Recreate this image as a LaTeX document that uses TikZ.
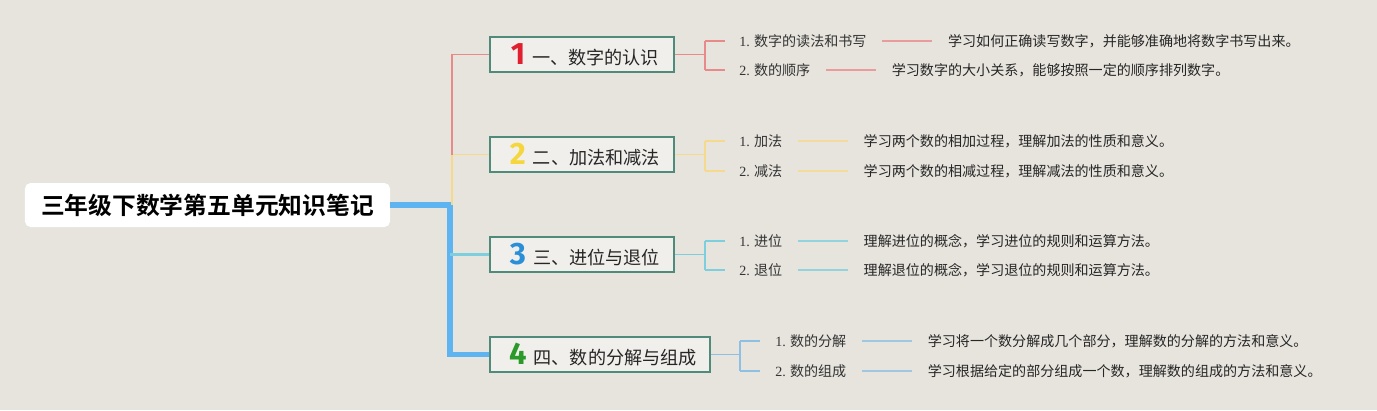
\documentclass[tikz,border=0pt]{standalone}
\usepackage{fontspec}
\setmainfont{Liberation Serif}
\newfontfamily\cjk{Noto Sans CJK SC}
\newfontfamily\cjkb{Noto Sans CJK SC Bold}
\newfontfamily\numf{Fira Sans}
\usepackage{tikz}
\usetikzlibrary{positioning}

\definecolor{paper}{HTML}{E7E4DD}
\definecolor{trunk}{HTML}{5DB4F0}
\definecolor{frame}{HTML}{4F8A7A}
\definecolor{redl}{HTML}{E98A8A}
\definecolor{yell}{HTML}{F5D98C}
\definecolor{tealb}{HTML}{7DCFDD}
\definecolor{blul}{HTML}{8DC0E2}
\definecolor{nred}{HTML}{E0202E}
\definecolor{nyel}{HTML}{F5D63D}
\definecolor{nblu}{HTML}{2B8FD8}
\definecolor{ngrn}{HTML}{2A9A2A}
\newcommand{\tnum}[2]{\hspace{4.2pt}{\color{#1}\numf\bfseries\fontsize{22pt}{24pt}\selectfont #2}\hspace{5pt}}

\begin{document}
\begin{tikzpicture}[
  x=0.025cm, y=-0.025cm,
  root/.style={fill=white, rounded corners=4pt, minimum width=9.125cm, minimum height=1.1cm, font=\cjkb\fontsize{16.9pt}{20pt}\selectfont},
  topic/.style={draw=frame, line width=1.4pt, fill=paper!60!white, minimum height=0.875cm, inner sep=0pt, font=\cjk\fontsize{12.9pt}{15pt}\selectfont, text=black!85},
  leaf/.style={inner sep=0pt, anchor=west, font=\cjk\fontsize{10pt}{12pt}\selectfont, text=black!80},
  note/.style={inner sep=0pt, right=2.025cm of #1, font=\cjk\fontsize{10pt}{12pt}\selectfont, text=black!85},
  link/.style={line width=1pt, shorten <=11pt, shorten >=11pt}
]
\useasboundingbox[fill=paper] (0,0) rectangle (1377,410);

% root and main topics
\node[root] (root) at (207.5,205) {三年级下数学第五单元知识笔记};
\node[topic, minimum width=4.6cm] (t1) at (582,54.5) {\tnum{nred}{1}一、数字的认识};
\node[topic, minimum width=4.6cm] (t2) at (582,154.5) {\tnum{nyel}{2}二、加法和减法};
\node[topic, minimum width=4.6cm] (t3) at (582,254.5) {\tnum{nblu}{3}三、进位与退位};
\node[topic, minimum width=5.5cm] (t4) at (600,354.5) {\tnum{ngrn}{4}四、数的分解与组成};

% trunk
\draw[trunk, line width=4.2pt] (root.east) -- (450,205) coordinate (j) |- (t4.west);
\draw[tealb, line width=2.8pt] (j |- t3.west) -- (t3.west);
\draw[yell, line width=1.4pt] (452,205) |- (t2.west);
\draw[redl, line width=1.4pt] (452,154.5) |- (t1.west);

% branch 1
\node[leaf] (a1) at (739,41) {{\rmfamily 1.} 数字的读法和书写};
\node[leaf] (a2) at (739,70) {{\rmfamily 2.} 数的顺序};
\node[note=a1] (d1) {学习如何正确读写数字，并能够准确地将数字书写出来。};
\node[note=a2] (d2) {学习数字的大小关系，能够按照一定的顺序排列数字。};
\draw[redl, line width=1pt] (t1.east) -- (705,54.5) coordinate (k1);
\draw[redl, line width=1pt] (k1 |- a1.west) -- (k1 |- a2.west);
\draw[redl, line width=1pt] (k1 |- a1.west) -- ++(20,0);
\draw[redl, line width=1pt] (k1 |- a2.west) -- ++(20,0);
\draw[redl!80!paper, link] (a1) -- (d1);
\draw[redl!80!paper, link] (a2) -- (d2);

% branch 2
\node[leaf] (b1) at (739,141) {{\rmfamily 1.} 加法};
\node[leaf] (b2) at (739,171) {{\rmfamily 2.} 减法};
\node[note=b1] (e1) {学习两个数的相加过程，理解加法的性质和意义。};
\node[note=b2] (e2) {学习两个数的相减过程，理解减法的性质和意义。};
\draw[yell, line width=1pt] (t2.east) -- (705,154.5) coordinate (k2);
\draw[yell, line width=1pt] (k2 |- b1.west) -- (k2 |- b2.west);
\draw[yell, line width=1pt] (k2 |- b1.west) -- ++(20,0);
\draw[yell, line width=1pt] (k2 |- b2.west) -- ++(20,0);
\draw[yell!80!paper, link] (b1) -- (e1);
\draw[yell!80!paper, link] (b2) -- (e2);

% branch 3
\node[leaf] (c1) at (739,241) {{\rmfamily 1.} 进位};
\node[leaf] (c2) at (739,270) {{\rmfamily 2.} 退位};
\node[note=c1] (f1) {理解进位的概念，学习进位的规则和运算方法。};
\node[note=c2] (f2) {理解退位的概念，学习退位的规则和运算方法。};
\draw[tealb, line width=1pt] (t3.east) -- (705,254.5) coordinate (k3);
\draw[tealb, line width=1pt] (k3 |- c1.west) -- (k3 |- c2.west);
\draw[tealb, line width=1pt] (k3 |- c1.west) -- ++(20,0);
\draw[tealb, line width=1pt] (k3 |- c2.west) -- ++(20,0);
\draw[tealb!80!paper, link] (c1) -- (f1);
\draw[tealb!80!paper, link] (c2) -- (f2);

% branch 4
\node[leaf] (g1) at (775,341) {{\rmfamily 1.} 数的分解};
\node[leaf] (g2) at (775,371) {{\rmfamily 2.} 数的组成};
\node[note=g1] (h1) {学习将一个数分解成几个部分，理解数的分解的方法和意义。};
\node[note=g2] (h2) {学习根据给定的部分组成一个数，理解数的组成的方法和意义。};
\draw[blul, line width=1pt] (t4.east) -- (740,354.5) coordinate (k4);
\draw[blul, line width=1pt] (k4 |- g1.west) -- (k4 |- g2.west);
\draw[blul, line width=1pt] (k4 |- g1.west) -- ++(20,0);
\draw[blul, line width=1pt] (k4 |- g2.west) -- ++(20,0);
\draw[blul!80!paper, link] (g1) -- (h1);
\draw[blul!80!paper, link] (g2) -- (h2);
\end{tikzpicture}
\end{document}
